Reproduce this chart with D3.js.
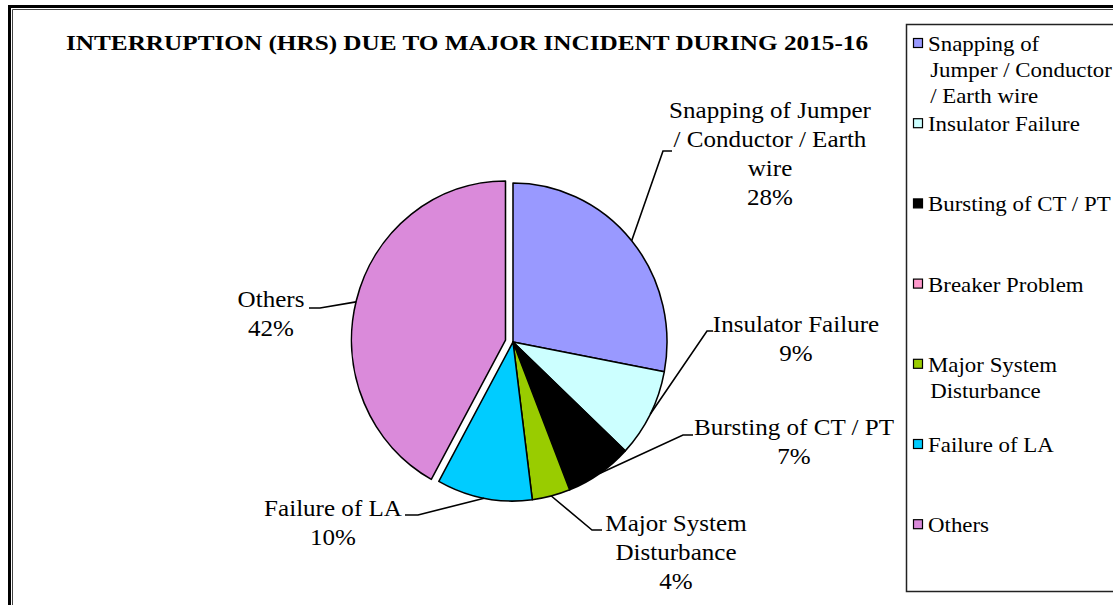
<!DOCTYPE html>
<html>
<head>
<meta charset="utf-8">
<script src="https://d3js.org/d3.v7.min.js"></script>
<style>
  body { margin: 0; background: #fff; }
</style>
</head>
<body>
<script>
// data
const categories = ["Snapping of Jumper / Conductor / Earth wire", "Insulator Failure", "Bursting of CT / PT",
    "Breaker Problem", "Major System Disturbance", "Failure of LA", "Others"];
const shares = [28, 9, 7, 0, 4, 10, 42];
const colors = ["#9999FF", "#CCFFFF", "#000000", "#FF99CC", "#99CC00", "#00CCFF", "#DA8ADA"];
const labelLines = [
    ["Snapping of Jumper", "/ Conductor / Earth", "wire"],
    ["Insulator Failure"],
    ["Bursting of CT / PT"],
    [],
    ["Major System", "Disturbance"],
    ["Failure of LA"],
    ["Others"]
];
const legendLines = [
    ["Snapping of", "Jumper / Conductor", "/ Earth wire"],
    ["Insulator Failure"],
    ["Bursting of CT / PT"],
    ["Breaker Problem"],
    ["Major System", "Disturbance"],
    ["Failure of LA"],
    ["Others"]
];
const title = "INTERRUPTION (HRS) DUE TO MAJOR INCIDENT DURING 2015-16";

// layout of the data labels (centre x, first baseline, stub end points)
const labelPos = [
    {cx: 770, y: 118, sx1: 672, sx2: 663, sy: 151},
    {cx: 796, y: 332, sx1: 713, sx2: 707, sy: 331},
    {cx: 794, y: 435, sx1: 693, sx2: 683, sy: 435},
    null,
    {cx: 676, y: 531, sx1: 602, sx2: 592, sy: 530},
    {cx: 333, y: 516, sx1: 405, sx2: 418, sy: 515},
    {cx: 271, y: 307, sx1: 309, sx2: 320, sy: 308}
];

let fontFamily = "'Liberation Serif', 'Times New Roman', serif";
let stretch = 1.09;
let width = 1113;
let height = 605;
let cx = 513, cy = 342, rx = 154, ry = 159;
let explode = 8;

let svg = d3.select("body").append("svg")
    .attr("width", width).attr("height", height)
    .attr("viewBox", [0, 0, width, height])
    .attr("font-family", fontFamily);

// outer frame
svg.append("path")
    .attr("d", `M9.5,${height + 5}V6.5H${width + 5}`)
    .attr("fill", "none").attr("stroke", "#000").attr("stroke-width", 3);
svg.append("path")
    .attr("d", `M12.5,${height + 5}V9.5H${width + 5}`)
    .attr("fill", "none").attr("stroke", "#444").attr("stroke-width", 1);

// title
svg.append("text")
    .attr("x", 66).attr("y", 50)
    .attr("font-size", "22px").attr("font-weight", "bold")
    .attr("textLength", 802).attr("lengthAdjust", "spacingAndGlyphs")
    .text(title);

// pie
let data = categories.map((c, i) => ({name: c, value: shares[i], color: colors[i], i: i}));
let pie = d3.pie().sort(null).value(d => d.value);
let arcs = pie(data).filter(d => d.value > 0);
let arc = d3.arc().innerRadius(0).outerRadius(ry);

let g = svg.append("g").attr("transform", `translate(${cx},${cy}) scale(${rx / ry},1)`);
g.selectAll("path")
    .data(arcs)
    .enter()
    .append("path")
    .attr("d", arc)
    .attr("fill", d => d.data.color)
    .attr("stroke", "#000")
    .attr("stroke-width", 1.6)
    .attr("stroke-linejoin", "round")
    .attr("transform", function(d) {
        if (d.data.name != "Others") return null;
        let a = (d.startAngle + d.endAngle) / 2;
        return `translate(${Math.sin(a) * explode},${-Math.cos(a) * explode})`;
    });

// data labels with leader lines
let labels = svg.append("g");
arcs.forEach(function(d) {
    let i = d.data.i;
    let p = labelPos[i];
    let a = (d.startAngle + d.endAngle) / 2;
    let off = d.data.name == "Others" ? explode : 0;
    let ex = cx + Math.sin(a) * (rx + off);
    let ey = cy - Math.cos(a) * (ry + off * 0.3);
    labels.append("path")
        .attr("d", `M${p.sx1},${p.sy}H${p.sx2}L${ex},${ey}`)
        .attr("fill", "none").attr("stroke", "#000").attr("stroke-width", 1.6);
    let lines = labelLines[i].concat([d.data.value + "%"]);
    let t = labels.append("text")
        .attr("transform", `translate(${p.cx},${p.y}) scale(${stretch},1)`)
        .attr("font-size", "23px")
        .attr("text-anchor", "middle");
    t.selectAll("tspan")
        .data(lines)
        .enter()
        .append("tspan")
        .attr("x", 0)
        .attr("y", (s, k) => k * 29)
        .text(s => s);
});

// legend
let legendX = 906, legendY = 24;
svg.append("rect")
    .attr("x", legendX + 0.5).attr("y", legendY + 0.5)
    .attr("width", 230).attr("height", 567)
    .attr("fill", "#fff").attr("stroke", "#222").attr("stroke-width", 1.5);
let legend = svg.append("g").selectAll("g")
    .data(data)
    .enter()
    .append("g")
    .attr("transform", (d, i) => `translate(${legendX}, ${legendY + 27 + i * 80.2})`);
legend.append("rect")
    .attr("x", 7.5).attr("y", -12.5)
    .attr("width", 9).attr("height", 9)
    .attr("fill", d => d.color)
    .attr("stroke", "#000").attr("stroke-width", 1.2);
legend.append("text")
    .attr("transform", `translate(22,0) scale(${stretch},1)`)
    .attr("font-size", "21px")
    .selectAll("tspan")
    .data(d => legendLines[d.i])
    .enter()
    .append("tspan")
    .attr("x", (s, k) => k == 0 ? 0 : 2)
    .attr("y", (s, k) => k * 26)
    .text(s => s);
</script>
</body>
</html>
